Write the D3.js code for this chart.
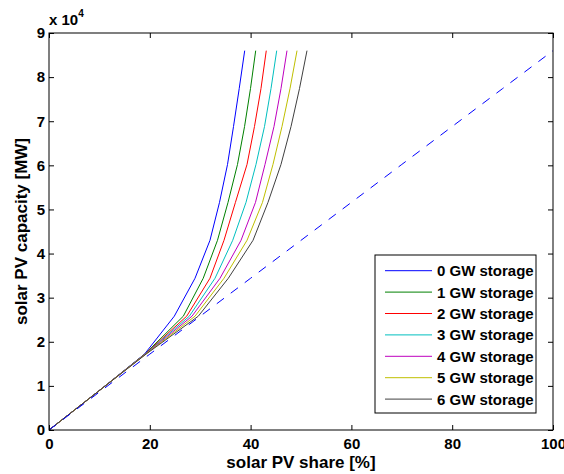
<!DOCTYPE html>
<html><head><meta charset="utf-8">
<script src="https://cdn.jsdelivr.net/npm/d3@7"></script>
<style>
html,body{margin:0;padding:0;background:#fff;}
text{font-family:"Liberation Sans",Arial,Helvetica,sans-serif;font-weight:bold;}
</style></head>
<body>
<svg id="chart" width="564" height="474"></svg>
<script>
// PV capacity steps (MW)
const capacity = [0, 8600, 17200, 25800, 34400, 43000, 51600, 60200, 68800, 77400, 86000];
// solar PV share [%] for each storage size at each capacity step
const share0GW = [0, 9.6, 18.95, 24.86, 28.97, 31.94, 33.83, 35.42, 36.61, 37.74, 38.83];
const share1GW = [0, 9.6, 19.0, 26.65, 30.6, 33.43, 35.52, 37.4, 38.8, 39.98, 41.01];
const share2GW = [0, 9.6, 19.05, 27.32, 31.94, 34.72, 36.99, 39.29, 40.77, 42.06, 43.11];
const share3GW = [0, 9.6, 19.1, 27.84, 32.94, 36.45, 39.09, 41.07, 42.76, 44.05, 45.18];
const share4GW = [0, 9.6, 19.15, 28.37, 33.93, 38.1, 40.97, 42.86, 44.64, 46.03, 47.22];
const share5GW = [0, 9.6, 19.2, 28.97, 34.72, 39.29, 42.36, 44.44, 46.23, 47.82, 49.21];
const share6GW = [0, 9.6, 19.25, 29.62, 35.58, 40.48, 43.45, 46.03, 48.02, 49.7, 51.19];
// reference line (no curtailment)
const shareRef = [0, 10, 20, 30, 40, 50, 60, 70, 80, 90, 100];
const seriesNames = ["0 GW storage","1 GW storage","2 GW storage","3 GW storage","4 GW storage","5 GW storage","6 GW storage"];
const seriesColors = ["#0000ff","#008000","#ff0000","#00bfbf","#bf00bf","#bfbf00","#404040"];
const xTicks = [0, 20, 40, 60, 80, 100];
const yTicks = [0, 10000, 20000, 30000, 40000, 50000, 60000, 70000, 80000, 90000];

const allShares = [share0GW, share1GW, share2GW, share3GW, share4GW, share5GW, share6GW];

const svg = d3.select("#chart");
const W = 564, H = 474;
const m = {left:49, right:11, top:33, bottom:44};
const x = d3.scaleLinear().domain([0,100]).range([m.left, W - m.right]);
const y = d3.scaleLinear().domain([0,90000]).range([H - m.bottom, m.top]);

svg.append("rect").attr("width",W).attr("height",H).attr("fill","#fff");

const line = d3.line().x(d=>x(d[0])).y(d=>y(d[1]));

// curves
allShares.forEach((s,i)=>{
  svg.append("path")
    .datum(s.map((v,j)=>[v, capacity[j]]))
    .attr("d", line)
    .attr("fill","none")
    .attr("stroke", seriesColors[i])
    .attr("stroke-width", 1);
});
// dashed reference
svg.append("path")
  .datum(shareRef.map((v,j)=>[v, capacity[j]]))
  .attr("d", line)
  .attr("fill","none")
  .attr("stroke","#0000ff")
  .attr("stroke-width",1)
  .attr("stroke-dasharray","9,8.5");

// axes
const fs = 15;
const ax = svg.append("g").attr("transform",`translate(0,${y(0)})`)
  .call(d3.axisBottom(x).tickValues(xTicks).tickSize(-5).tickPadding(8));
const axTop = svg.append("g").attr("transform",`translate(0,${y(90000)})`)
  .call(d3.axisTop(x).tickValues(xTicks).tickSize(-5).tickFormat(""));
const ay = svg.append("g").attr("transform",`translate(${x(0)},0)`)
  .call(d3.axisLeft(y).tickValues(yTicks).tickSize(-5).tickPadding(4).tickFormat(d=>d/10000));
const ayR = svg.append("g").attr("transform",`translate(${x(100)},0)`)
  .call(d3.axisRight(y).tickValues(yTicks).tickSize(-5).tickFormat(""));
[ax,axTop,ay,ayR].forEach(g=>{
  g.select(".domain").remove();
  g.selectAll(".tick line").attr("stroke","#000");
  g.selectAll("text").attr("font-size",fs).attr("fill","#000")
    .attr("font-family","Liberation Sans, Arial, sans-serif").attr("font-weight","bold");
});
// box
svg.append("rect").attr("x",x(0)).attr("y",y(90000))
  .attr("width",x(100)-x(0)).attr("height",y(0)-y(90000))
  .attr("fill","none").attr("stroke","#000").attr("stroke-width",1);

// exponent
const ex = svg.append("text").attr("x",x(0)).attr("y",25).attr("font-size",fs).attr("fill","#000");
ex.append("tspan").text("x 10");
ex.append("tspan").attr("font-size",10).attr("dy",-8).text("4");

// axis labels
const lfs = 17;
svg.append("text").attr("x",(x(0)+x(100))/2).attr("y",468).attr("text-anchor","middle")
  .attr("font-size",lfs).attr("fill","#000").text("solar PV share [%]");
svg.append("text").attr("transform",`translate(27,${(y(0)+y(90000))/2}) rotate(-90)`)
  .attr("text-anchor","middle").attr("font-size",lfs).attr("fill","#000").text("solar PV capacity [MW]");

// legend
const lg = svg.append("g");
lg.append("rect").attr("x",375).attr("y",255).attr("width",161).attr("height",158)
  .attr("fill","#fff").attr("stroke","#000").attr("stroke-width",1);
seriesNames.forEach((n,i)=>{
  const yy = 270.7 + i*21.4;
  lg.append("line").attr("x1",385).attr("x2",432).attr("y1",yy).attr("y2",yy)
    .attr("stroke",seriesColors[i]).attr("stroke-width",1);
  lg.append("text").attr("x",437).attr("y",yy).attr("dy","0.36em").attr("font-size",fs)
    .attr("fill","#000").text(n);
});
</script>
</body></html>
